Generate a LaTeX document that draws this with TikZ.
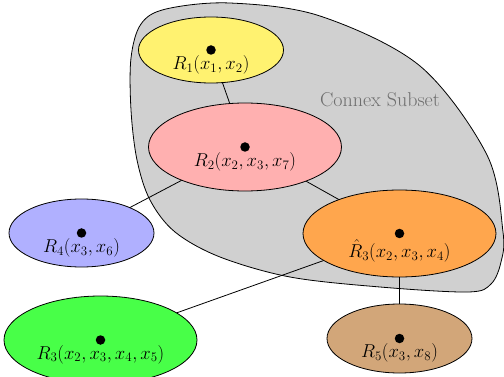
\documentclass[tikz,border=0pt]{standalone}
\usepackage{graphicx}
\usetikzlibrary{shapes.geometric}
\pgfdeclarelayer{blob}
\pgfdeclarelayer{edges}
\pgfsetlayers{blob,edges,main}
\definecolor{cyel}{RGB}{255,242,112}
\definecolor{cpink}{RGB}{255,176,176}
\definecolor{corange}{RGB}{255,166,77}
\definecolor{cblue}{RGB}{176,176,255}
\definecolor{cgreen}{RGB}{72,255,72}
\definecolor{cbrown}{RGB}{210,166,121}
\definecolor{cblob}{RGB}{208,208,208}
\definecolor{ctext}{RGB}{110,110,110}
\newcommand\relab[1]{\scalebox{1.08}{$#1$}}
\begin{document}
\begin{tikzpicture}[x=1pt,y=-1pt,
  rel/.style={ellipse,draw=black,line width=0.8pt,inner sep=0pt},
  dotnode/.style={circle,fill=black,inner sep=0pt,minimum size=9.5pt},
  lbl/.style={inner sep=0pt,anchor=base,font=\fontsize{17.28}{20}\selectfont},
  edge/.style={draw=black,line width=0.8pt}]
\useasboundingbox (0,0) rectangle (504,377);
\begin{pgfonlayer}{blob}
\draw[fill=cblob,line width=0.8pt] plot[smooth cycle,tension=0.55] coordinates {
 (131,110) (131,58) (141,24) (166,9) (230,3) (320,16) (420,66) (487,155)
 (503,232) (501,262) (491,284) (468,292) (380,287) (290,277) (220,257) (175,232)
 (150,200) (137,160)};
\end{pgfonlayer}
\node[font=\fontsize{20}{22}\selectfont,text=ctext] (cs) at (380,100) {Connex Subset};
\node[rel,fill=cyel,minimum width=145pt,minimum height=66pt] (r1) at (211,50) {};
\node[rel,fill=cpink,minimum width=193pt,minimum height=88pt] (r2) at (245,147) {};
\node[rel,fill=corange,minimum width=193pt,minimum height=87pt] (r3h) at (399.5,233.5) {};
\node[rel,fill=cblue,minimum width=145pt,minimum height=68pt] (r4) at (81.5,233) {};
\node[rel,fill=cgreen,minimum width=193pt,minimum height=88pt] (r3) at (100.5,340) {};
\node[rel,fill=cbrown,minimum width=145pt,minimum height=69pt] (r5) at (399.5,338.5) {};
\foreach \n in {r1,r2,r3h,r4,r3,r5} {\node[dotnode] (d\n) at (\n.center) {};}
\node[lbl] (l1) at ([yshift=-20pt]r1.center) {\relab{R_1(x_1,x_2)}};
\node[lbl] (l2) at ([yshift=-20pt]r2.center) {\relab{R_2(x_2,x_3,x_7)}};
\node[lbl] (l3h) at ([yshift=-24pt]r3h.center) {\relab{\hat{R}_3(x_2,x_3,x_4)}};
\node[lbl] (l4) at ([yshift=-20pt]r4.center) {\relab{R_4(x_3,x_6)}};
\node[lbl] (l3) at ([yshift=-19pt]r3.center) {\relab{R_3(x_2,x_3,x_4,x_5)}};
\node[lbl] (l5) at ([yshift=-19pt]r5.center) {\relab{R_5(x_3,x_8)}};
\begin{pgfonlayer}{edges}
\path[edge] (r1.center) -- (r2.center);
\path[edge] (r2.center) -- (r4.center);
\path[edge] (r2.center) -- (r3h.center);
\path[edge] (r3h.center) -- (r3.center);
\path[edge] (r3h.center) -- (r5.center);
\end{pgfonlayer}
\end{tikzpicture}
\end{document}
